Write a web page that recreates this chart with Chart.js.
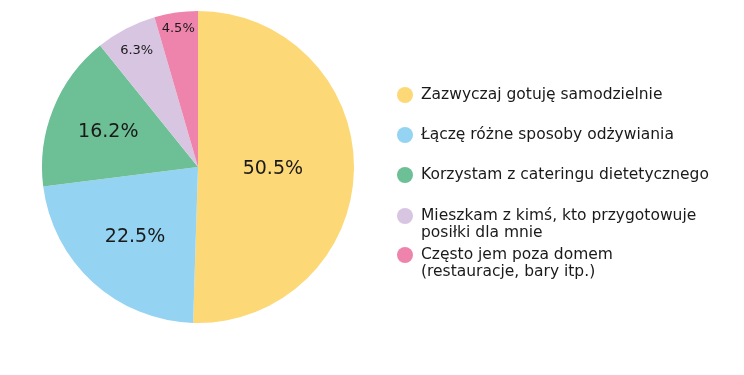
<!DOCTYPE html>
<html>
<head>
<meta charset="utf-8">
<script src="https://cdn.jsdelivr.net/npm/chart.js@4.4.1/dist/chart.umd.min.js"></script>
<style>
  html, body { margin: 0; padding: 0; background: #ffffff; }
  #wrap { width: 744px; height: 375px; position: relative; }
</style>
</head>
<body>
<div id="wrap"><canvas id="chart"></canvas></div>
<script>
// dane wykresu
const categories = [
    ['Zazwyczaj gotuję samodzielnie'],
    ['Łączę różne sposoby odżywiania'],
    ['Korzystam z cateringu dietetycznego'],
    ['Mieszkam z kimś, kto przygotowuje', 'posiłki dla mnie'],
    ['Często jem poza domem', '(restauracje, bary itp.)']
];
const shares = [50.5, 22.5, 16.2, 6.3, 4.5];
const sliceColors = ['#fcd877', '#94d3f2', '#6dbf96', '#d8c5e2', '#ee84ac'];

const FONT = '"DejaVu Sans", sans-serif';

// etykiety procentowe na wycinkach
const sliceLabels = {
    id: 'sliceLabels',
    afterDatasetsDraw(chart) {
        const ctx = chart.ctx;
        const meta = chart.getDatasetMeta(0);
        const radiusFactor = [0.48, 0.6, 0.62, 0.85, 0.9];
        const sizes = [19, 19, 19, 13, 13];
        meta.data.forEach((arc, i) => {
            const mid = (arc.startAngle + arc.endAngle) / 2;
            const r = arc.outerRadius * radiusFactor[i];
            const x = arc.x + Math.cos(mid) * r;
            const y = arc.y + Math.sin(mid) * r;
            ctx.save();
            ctx.fillStyle = '#1a1a1a';
            ctx.font = sizes[i] + 'px ' + FONT;
            ctx.textAlign = 'center';
            ctx.textBaseline = 'middle';
            ctx.fillText(shares[i].toFixed(1) + '%', x, y + 1);
            ctx.restore();
        });
    }
};

// legenda rysowana po prawej stronie
const sideLegend = {
    id: 'sideLegend',
    afterDraw(chart) {
        const ctx = chart.ctx;
        const rowsY = [95, 135, 175, 216, 255];
        const lineH = 17;
        ctx.save();
        ctx.font = '15.5px ' + FONT;
        ctx.textBaseline = 'middle';
        ctx.textAlign = 'left';
        chart.data.labels.forEach((lines, i) => {
            ctx.fillStyle = sliceColors[i];
            ctx.beginPath();
            ctx.arc(405, rowsY[i], 8, 0, Math.PI * 2);
            ctx.fill();
            ctx.fillStyle = '#1a1a1a';
            lines.forEach((t, j) => ctx.fillText(t, 421, rowsY[i] + j * lineH));
        });
        ctx.restore();
    }
};

new Chart(document.getElementById('chart'), {
    type: 'pie',
    data: {
        labels: categories,
        datasets: [{
            data: shares,
            backgroundColor: sliceColors,
            borderWidth: 0
        }]
    },
    options: {
        responsive: true,
        maintainAspectRatio: false,
        animation: false,
        layout: {
            padding: { left: 42, top: 11, right: 390, bottom: 52 }
        },
        plugins: {
            legend: { display: false },
            tooltip: { enabled: false }
        }
    },
    plugins: [sliceLabels, sideLegend]
});
</script>
</body>
</html>
